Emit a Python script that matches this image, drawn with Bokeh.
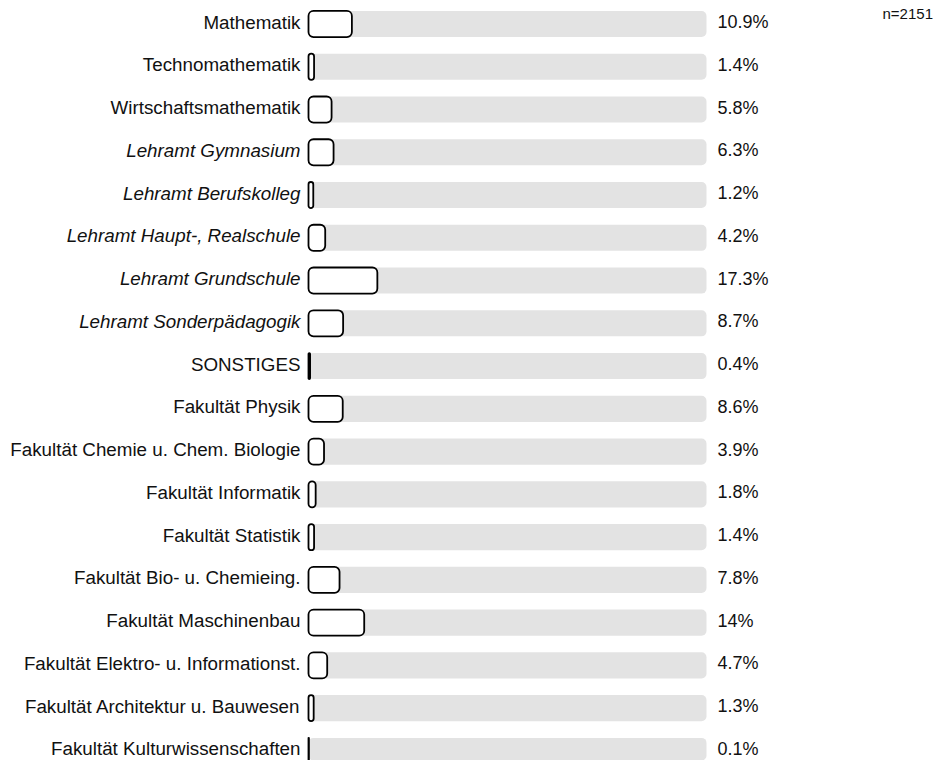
from bokeh.plotting import figure
from bokeh.models import ColumnDataSource, Range1d
from bokeh.core.properties import value
from bokeh.embed import file_html
from bokeh.resources import INLINE

labels = [
    "Mathematik", "Technomathematik", "Wirtschaftsmathematik",
    "Lehramt Gymnasium", "Lehramt Berufskolleg", "Lehramt Haupt-, Realschule",
    "Lehramt Grundschule", "Lehramt Sonderpädagogik", "SONSTIGES",
    "Fakultät Physik", "Fakultät Chemie u. Chem. Biologie", "Fakultät Informatik",
    "Fakultät Statistik", "Fakultät Bio- u. Chemieing.", "Fakultät Maschinenbau",
    "Fakultät Elektro- u. Informationst.", "Fakultät Architektur u. Bauwesen",
    "Fakultät Kulturwissenschaften",
]
values = [10.9, 1.4, 5.8, 6.3, 1.2, 4.2, 17.3, 8.7, 0.4, 8.6, 3.9, 1.8, 1.4, 7.8, 14, 4.7, 1.3, 0.1]
pct_labels = ["10.9%", "1.4%", "5.8%", "6.3%", "1.2%", "4.2%", "17.3%", "8.7%", "0.4%",
              "8.6%", "3.9%", "1.8%", "1.4%", "7.8%", "14%", "4.7%", "1.3%", "0.1%"]
styles = ["normal", "normal", "normal", "italic", "italic", "italic", "italic", "italic",
          "normal", "normal", "normal", "normal", "normal", "normal", "normal", "normal",
          "normal", "normal"]
n_text = "n=2151"
track_max = 100

rows = list(range(len(labels)))
src = ColumnDataSource(dict(
    y=rows, v=values, label=labels, pct=pct_labels, style=styles,
    zero=[0] * len(rows), full=[track_max] * len(rows),
))

W, H = 952, 760
px_per_unit = 3.98
x0 = -308 / px_per_unit
row_px = 42.76
y_top = -23.5 / row_px

p = figure(width=W, height=H, output_backend="svg", toolbar_location=None,
           x_range=Range1d(x0, x0 + W / px_per_unit),
           y_range=Range1d(y_top + H / row_px, y_top),
           min_border=0, outline_line_color=None)
p.axis.visible = False
p.grid.visible = False
p.background_fill_color = "white"
p.border_fill_color = "white"

bh = 0.61
p.hbar(y="y", left="zero", right="full", height=bh, source=src,
       fill_color="#e3e3e3", line_color=None, border_radius=5)
p.hbar(y="y", left="zero", right="v", height=bh, source=src,
       fill_color="white", line_color="black", line_width=1.8, border_radius=5)

font = value("Liberation Sans")
p.text(x="zero", y="y", text="label", source=src, text_font=font,
       text_font_size="18.8px", text_font_style="style", text_color="#111111",
       text_align="right", text_baseline="middle", x_offset=-8, y_offset=-2)
p.text(x="full", y="y", text="pct", source=src, text_font=font,
       text_font_size="18px", text_color="#111111",
       text_align="left", text_baseline="middle", x_offset=11, y_offset=-2)

p.text(x=[x0 + 882 / px_per_unit], y=[0], text=[n_text], text_font=font,
       text_font_size="15px", text_color="#111111", text_align="left",
       text_baseline="middle", y_offset=-10.5)

open("out.html", "w").write(file_html(p, INLINE))
